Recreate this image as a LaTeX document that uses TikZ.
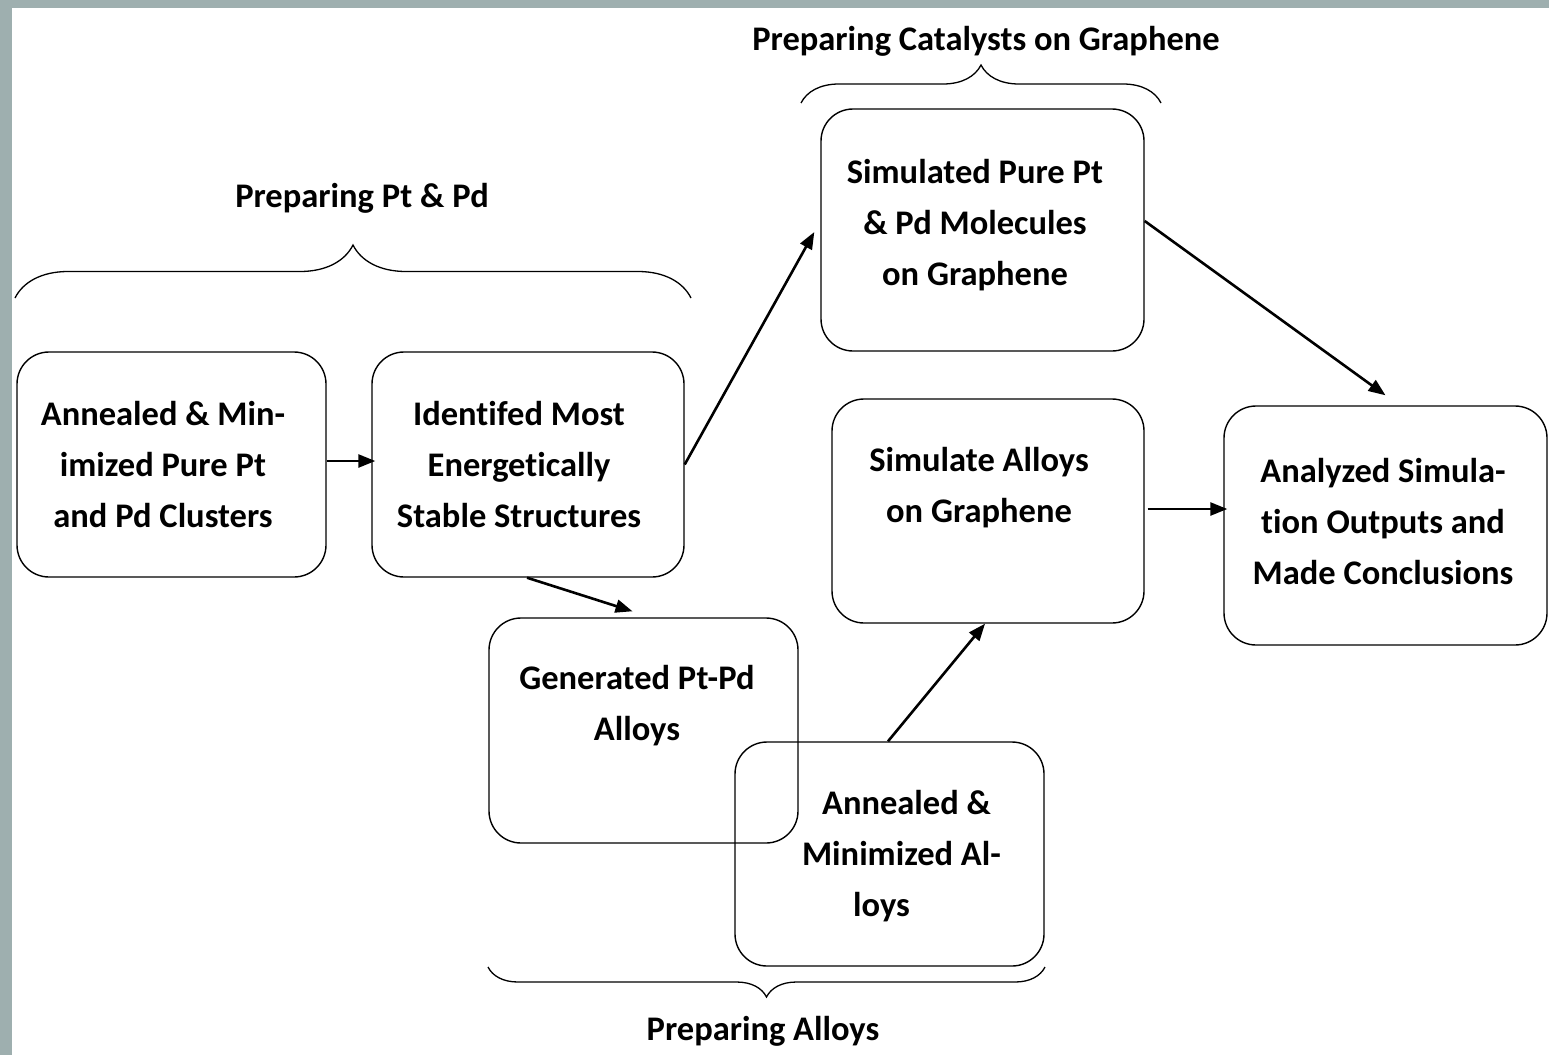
\documentclass[tikz,border=0pt]{standalone}
\usepackage{fontspec}
\setmainfont{Carlito}[Ligatures=CommonOff]
\usetikzlibrary{arrows.meta,decorations.pathreplacing,calc}
\definecolor{framec}{HTML}{9EAFAF}
\begin{document}
\begin{tikzpicture}[x=1pt,y=-1pt,
  box/.style={draw=black,line width=1.4pt,rounded corners=32pt,inner sep=0pt},
  txt/.style={align=center,inner sep=0pt,font=\fontsize{34.5}{51}\selectfont\bfseries},
  arr/.style={line width=2.6pt,-{Triangle[length=17pt,width=13pt]}},
  brc/.style={line width=1.3pt,decorate},
  lbl/.style={inner sep=0pt,font=\fontsize{34.5}{40}\selectfont\bfseries}]
\useasboundingbox (0,0) rectangle (1549,1055);
\fill[framec] (0,0) rectangle (1549,1055);
\fill[white] (12,8) rectangle (1549,1055);
% boxes
\node[box,minimum width=309pt,minimum height=225pt] (b1) at (171.5,464.5) {};
\node[box,minimum width=312pt,minimum height=225pt] (b2) at (528,464.5) {};
\node[box,minimum width=323pt,minimum height=242pt] (b3) at (982.5,230) {};
\node[box,minimum width=312pt,minimum height=224pt] (b4) at (988,511) {};
\node[box,minimum width=323pt,minimum height=239pt] (b5) at (1385.5,525.5) {};
\node[box,minimum width=309pt,minimum height=225pt] (b6) at (643.5,730.5) {};
\node[box,minimum width=309pt,minimum height=224pt] (b7) at (889.5,854) {};
% texts
\node[txt] (t1) at (163,465) {Annealed \& Min-\\imized Pure Pt\\and Pd Clusters};
\node[txt] (t2) at (519,465) {Identifed Most\\Energetically\\Stable Structures};
\node[txt] (t3) at (975,225) {Simulated Pure Pt\\\& Pd Molecules\\on Graphene};
\node[txt] (t4) at (979,488) {Simulate Alloys\\on Graphene};
\node[txt] (t5) at (1383,522) {Analyzed Simula-\\tion Outputs and\\Made Conclusions};
\node[txt] (t6) at (637,706) {Generated Pt-Pd\\Alloys};
\node[txt] (t7) at (881.5,856) {\hspace*{50pt}Annealed \&\\\hspace*{40pt}Minimized Al-\\loys};
% braces
\draw[brc,decoration={brace,amplitude=53pt}] (15,298) coordinate (br1a) -- (691,298) coordinate (br1b);
\draw[brc,decoration={brace,amplitude=38pt}] (801,103) coordinate (br2a) -- (1161,103) coordinate (br2b);
\draw[brc,decoration={brace,amplitude=30pt}] (1045,967) coordinate (br3a) -- (488,967) coordinate (br3b);
\node[lbl] (l1) at (362,198) {Preparing Pt \& Pd};
\node[lbl] (l2) at (986,41) {Preparing Catalysts on Graphene};
\node[lbl] (l3) at (763,1031) {Preparing Alloys};
% arrows
\draw[arr,shorten >=-4pt] ([yshift=3.5pt]b1.east) -- ([yshift=3.5pt]b2.west);
\draw[arr] (b2.east) -- ([xshift=-6pt,yshift=-2pt]b3.west);
\draw[arr] ([xshift=-1pt]b2.south) -- ([xshift=-11pt,yshift=6pt]b6.north);
\draw[arr] ([yshift=9pt]b3.east) -- ([yshift=10pt]b5.north);
\draw[arr,shorten >=-4pt] ([xshift=3pt,yshift=2pt]b4.east) coordinate (s45) -- (s45 -| b5.west);
\draw[arr] ([xshift=-1.5pt]b7.north) -- ([xshift=-3pt]b4.south);
\end{tikzpicture}
\end{document}
